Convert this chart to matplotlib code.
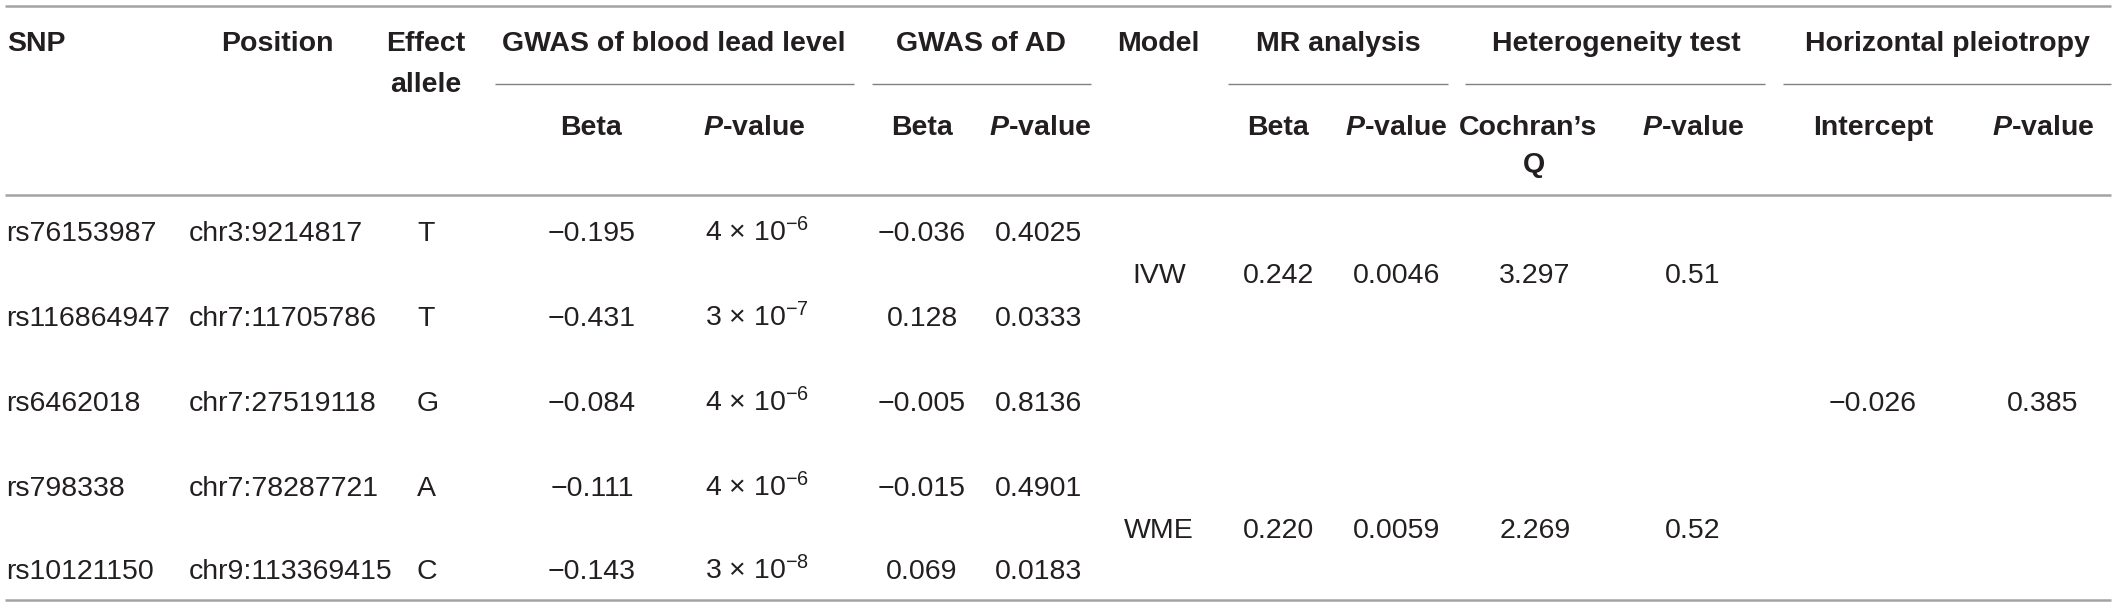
import matplotlib
matplotlib.use("Agg")
import matplotlib.pyplot as plt

# ---- table data ----
snps = ["rs76153987", "rs116864947", "rs6462018", "rs798338", "rs10121150"]
positions = ["chr3:9214817", "chr7:11705786", "chr7:27519118", "chr7:78287721", "chr9:113369415"]
alleles = ["T", "T", "G", "A", "C"]
lead_beta = [-0.195, -0.431, -0.084, -0.111, -0.143]
lead_p_mant = [4, 3, 4, 4, 3]
lead_p_exp = [-6, -7, -6, -6, -8]
ad_beta = [-0.036, 0.128, -0.005, -0.015, 0.069]
ad_p = ["0.4025", "0.0333", "0.8136", "0.4901", "0.0183"]
models = ["IVW", "WME"]
mr_beta = [0.242, 0.220]
mr_p = ["0.0046", "0.0059"]
cochran_q = [3.297, 2.269]
het_p = ["0.51", "0.52"]
pleio_intercept = [-0.026]
pleio_p = ["0.385"]

group_titles = ["GWAS of blood lead level", "GWAS of AD", "MR analysis",
                "Heterogeneity test", "Horizontal pleiotropy"]

TXT = "#231f20"
RULE = "#a3a3a3"
SUBRULE = "#808080"
FS = 20.5

plt.rcParams["font.family"] = ["Liberation Sans", "DejaVu Sans"]
plt.rcParams["mathtext.fontset"] = "custom"
plt.rcParams["mathtext.rm"] = "Liberation Sans"
plt.rcParams["mathtext.it"] = "Liberation Sans:italic:bold"
plt.rcParams["mathtext.bf"] = "Liberation Sans:bold"

W, H = 2117, 606
fig = plt.figure(figsize=(W / 100, H / 100), dpi=100)
ax = fig.add_axes([0, 0, 1, 1])
ax.set_xlim(0, W)
ax.set_ylim(H, 0)
ax.axis("off")


def num(v):
    return f"{v:.3f}".replace("-", "\u2212")


def put(x, y, s, ha="center", bold=False):
    ax.text(x, y, s, ha=ha, va="baseline", fontsize=FS, color=TXT,
            fontweight="bold" if bold else "normal")


# rules
ax.plot([5, 2111], [5.5, 5.5], color=RULE, lw=1.8, solid_capstyle="butt")
ax.plot([5, 2111], [195, 195], color=RULE, lw=1.8, solid_capstyle="butt")
ax.plot([5, 2111], [600, 600], color=RULE, lw=1.8, solid_capstyle="butt")
sub_spans = [(495, 854), (872, 1091), (1228, 1448), (1465, 1765), (1783, 2111)]
for x0, x1 in sub_spans:
    ax.plot([x0, x1], [84, 84], color=SUBRULE, lw=1.0, solid_capstyle="butt")

# header
put(7, 51, "SNP", ha="left", bold=True)
put(277, 51, "Position", bold=True)
put(426, 51, "Effect", bold=True)
put(426, 92, "allele", bold=True)
group_x = [674, 981, 1338, 1616, 1947]
for gx, title in zip(group_x, group_titles):
    put(gx, 51, title, bold=True)
put(1158, 51, "Model", bold=True)

pv = r"$\mathit{P}$-value"
put(591, 135, "Beta", bold=True)
put(754, 135, pv, bold=True)
put(922, 135, "Beta", bold=True)
put(1040, 135, pv, bold=True)
put(1278, 135, "Beta", bold=True)
put(1396, 135, pv, bold=True)
put(1528, 135, "Cochran\u2019s", bold=True)
put(1534, 172, "Q", bold=True)
put(1693, 135, pv, bold=True)
put(1873, 135, "Intercept", bold=True)
put(2043, 135, pv, bold=True)

# SNP rows
row_y = [241, 326, 411, 496, 579]
for i, y in enumerate(row_y):
    put(6, y, snps[i], ha="left")
    put(189, y, positions[i], ha="left")
    put(417, y, alleles[i], ha="left")
    put(592, y, num(lead_beta[i]))
    put(757, y, f"{lead_p_mant[i]} \u00d7 10$^{{\\mathrm{{{lead_p_exp[i]}}}}}$")
    put(922, y, num(ad_beta[i]))
    put(1039, y, ad_p[i])

# model rows (merged cells)
model_y = [283, 538]
for j, y in enumerate(model_y):
    put(1159, y, models[j])
    put(1278, y, num(mr_beta[j]))
    put(1397, y, mr_p[j])
    put(1535, y, num(cochran_q[j]))
    put(1693, y, het_p[j])

put(1873, 411, num(pleio_intercept[0]))
put(2043, 411, pleio_p[0])

fig.savefig("out.png", dpi=100, facecolor="white")
